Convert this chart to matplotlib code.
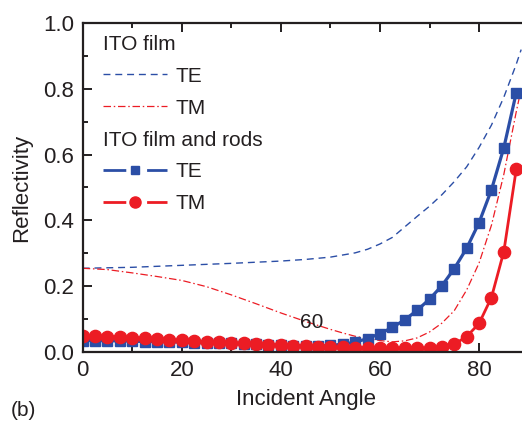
import matplotlib
matplotlib.use("Agg")
import matplotlib.pyplot as plt
from matplotlib.lines import Line2D
from matplotlib.ticker import MultipleLocator

plt.rcParams['font.family'] = ['Liberation Sans', 'DejaVu Sans']

# ---- data ----
film_te_angle = [0, 10, 20, 30, 40, 45, 50, 55, 57.5, 60, 62.5, 65, 67.5, 70, 72.5,
                 75, 77.5, 80, 82.5, 85, 87.5, 88.5]
film_te = [0.254, 0.257, 0.263, 0.269, 0.276, 0.281, 0.288, 0.301, 0.312, 0.328, 0.348,
           0.380, 0.412, 0.443, 0.478, 0.518, 0.563, 0.622, 0.690, 0.775, 0.875, 0.92]

film_tm_angle = [0, 5, 10, 15, 20, 25, 30, 35, 40, 42.5, 45, 47.5, 50, 52.5, 55, 57.5,
                 60, 62.5, 65, 67.5, 70, 72.5, 75, 77.5, 80, 82.5, 85, 87.5, 88.5]
film_tm = [0.254, 0.250, 0.240, 0.229, 0.217, 0.198, 0.173, 0.146, 0.118, 0.105, 0.092,
           0.080, 0.068, 0.057, 0.047, 0.040, 0.034, 0.030, 0.033, 0.042, 0.060, 0.087,
           0.125, 0.188, 0.270, 0.385, 0.540, 0.730, 0.80]

rods_angle = [0, 2.5, 5, 7.5, 10, 12.5, 15, 17.5, 20, 22.5, 25, 27.5, 30, 32.5, 35, 37.5,
              40, 42.5, 45, 47.5, 50, 52.5, 55, 57.5, 60, 62.5, 65, 67.5, 70, 72.5, 75,
              77.5, 80, 82.5, 85, 87.5]
rods_te = [0.034, 0.034, 0.033, 0.033, 0.032, 0.031, 0.031, 0.030, 0.029, 0.028, 0.027,
           0.026, 0.025, 0.024, 0.022, 0.021, 0.019, 0.018, 0.017, 0.017, 0.019, 0.023,
           0.029, 0.040, 0.055, 0.074, 0.097, 0.126, 0.160, 0.201, 0.253, 0.315, 0.393,
           0.493, 0.621, 0.788]
rods_tm = [0.048, 0.047, 0.046, 0.045, 0.043, 0.041, 0.039, 0.037, 0.035, 0.033, 0.031,
           0.029, 0.027, 0.025, 0.023, 0.021, 0.019, 0.017, 0.016, 0.015, 0.014, 0.013,
           0.012, 0.012, 0.011, 0.011, 0.011, 0.011, 0.010, 0.013, 0.023, 0.046, 0.086,
           0.165, 0.305, 0.555]

x_ticks = [0, 20, 40, 60, 80]
y_ticks = [0.0, 0.2, 0.4, 0.6, 0.8, 1.0]
y_ticklabels = ['0.0', '0.2', '0.4', '0.6', '0.8', '1.0']

BLUE = '#2b4ea6'
RED = '#ec1c24'
TXT = '#231f20'

fig = plt.figure(figsize=(5.22, 4.26), dpi=100)
W, H = 522, 426
left, right, top, bottom = 82.7, 528.6, 23.3, 351.7
ax = fig.add_axes([left / W, 1 - bottom / H, (right - left) / W, (bottom - top) / H])

ax.plot(film_te_angle, film_te, color=BLUE, lw=1.0, dashes=(5, 3.5))
ax.plot(film_tm_angle, film_tm, color=RED, lw=0.9, dashes=(6, 2.2, 1.2, 2.2))
ax.plot(rods_angle, rods_te, color=BLUE, lw=2.3, marker='s', ms=6.5, mec=BLUE, mfc=BLUE)
ax.plot(rods_angle, rods_tm, color=RED, lw=2.0, marker='o', ms=8.8, mec=RED, mfc=RED)

ax.text(46.3, 0.088, '60', fontsize=15, color=TXT, ha='center', va='center')

ax.set_xlim(0, 90)
ax.set_ylim(0, 1.0)
ax.set_xticks(x_ticks)
ax.set_yticks(y_ticks)
ax.set_yticklabels(y_ticklabels)
ax.xaxis.set_minor_locator(MultipleLocator(10))
ax.yaxis.set_minor_locator(MultipleLocator(0.1))
ax.tick_params(which='both', direction='in', top=True, right=False, width=1.4,
               colors=TXT, labelsize=16, labelcolor=TXT)
ax.tick_params(which='major', length=6.5, pad=6)
ax.tick_params(which='minor', length=3.5)
for s in ax.spines.values():
    s.set_linewidth(1.6)
    s.set_color(TXT)
ax.spines['right'].set_visible(False)

ax.set_xlabel('Incident Angle', fontsize=16, color=TXT, labelpad=6)
ax.set_ylabel('Reflectivity', fontsize=16, color=TXT, labelpad=8)

fig.text(23 / W, 1 - 410 / H, '(b)', fontsize=15, color=TXT, ha='center', va='center')

# legend
blank = Line2D([], [], linestyle='none')
h_te = Line2D([], [], color=BLUE, lw=1.0, dashes=(5, 3.5))
h_tm = Line2D([], [], color=RED, lw=0.9, dashes=(6, 2.2, 1.2, 2.2))
h_rte = (Line2D([], [], color=BLUE, lw=2.0, dashes=(8.2, 7.5)),
         Line2D([], [], color=BLUE, marker='s', ms=5.5, linestyle='none'))
h_rtm = (Line2D([], [], color=RED, lw=2.0, dashes=(8.2, 7.5)),
         Line2D([], [], color=RED, marker='o', ms=8.0, linestyle='none'))
leg = ax.legend([blank, h_te, h_tm, blank, h_rte, h_rtm],
                ['ITO film', 'TE', 'TM', 'ITO film and rods', 'TE', 'TM'],
                loc='upper left', bbox_to_anchor=(0.045, 0.965), frameon=False,
                fontsize=15, handlelength=3.1, handletextpad=0.4, labelspacing=0.62,
                borderpad=0, borderaxespad=0)
for t in leg.get_texts():
    t.set_color(TXT)
try:
    rows = leg._legend_handle_box.get_children()[0].get_children()
    for i in (0, 3):
        rows[i].get_children()[0].width = 0
        rows[i].sep = 0
except Exception:
    pass

fig.savefig('out.png', dpi=100)
